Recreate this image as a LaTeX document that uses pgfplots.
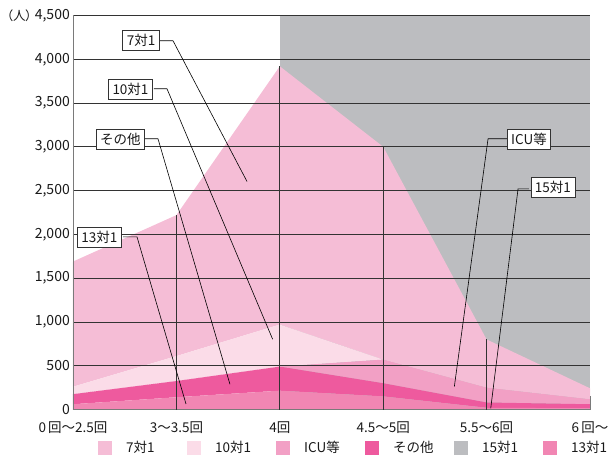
\documentclass[border=0pt]{standalone}
\usepackage{fontspec}
\setmainfont{Noto Sans CJK JP}
\newfontfamily\paltfont[RawFeature=+palt]{Noto Sans CJK JP}
\usepackage{pgfplots}
\pgfplotsset{compat=1.18}
\usepackage{pgfplotstable}

\definecolor{c7}{HTML}{F5BDD6}
\definecolor{c10}{HTML}{FBDCE8}
\definecolor{cicu}{HTML}{F2A0C5}
\definecolor{cother}{HTML}{EE5A9E}
\definecolor{c15}{HTML}{BCBDC0}
\definecolor{c13}{HTML}{F186B3}
\definecolor{gridc}{HTML}{333333}
\definecolor{axc}{HTML}{7A7A7A}

\tikzset{callbox/.style={draw=gridc, fill=white, line width=0.7pt, inner xsep=4pt,
    inner ysep=2pt, minimum height=20pt, text=black!90}}

\pgfplotstableread{
x s13 other icu s10 s7
0 60 115 0 85 1430
1 140 185 0 285 1610
2 215 275 0 480 2950
3 150 150 270 0 2430
4 20 60 170 0 550
5 14 46 57 0 125
}\data

\pgfplotsset{base/.style={scale only axis, width=517pt, height=394pt,
  xmin=0, xmax=5, ymin=0, ymax=4500}}

\begin{document}
\begin{tikzpicture}[font=\fontsize{13.5}{16}\selectfont]
% 15対1 (grey background area)
\begin{axis}[base, hide axis]
\addplot[fill=c15, draw=none] coordinates {(2,0) (2,4500) (5,4500) (5,0)} -- cycle;
\end{axis}
% stacked areas
\begin{axis}[base, stack plots=y, axis on top,
  ytick={0,500,...,4500}, ymajorgrids,
  major grid style={gridc, line width=0.8pt},
  xtick={0,...,5},
  xticklabels={{0\,回〜2.5回},{3〜3.5回},{4回},{4.5〜5回},{5.5〜6回},{6\,回〜}},
  major tick length=0pt,
  axis x line*=bottom, axis y line*=left,
  axis line style={-, axc, line width=0.8pt},
  /pgf/number format/1000 sep={,},
  /pgf/number format/assume math mode=true,
  x tick label style={yshift=-9pt},
  tick label style={font=\fontsize{13.5}{16}\selectfont, text=black!90},
  y tick label style={font=\fontsize{14}{16}\selectfont, inner sep=1pt, xshift=-2pt},
]
\addplot[fill=c13, draw=none] table[x=x, y=s13] {\data} \closedcycle;
\addplot[fill=cother, draw=none] table[x=x, y=other] {\data} \closedcycle;
\addplot[fill=cicu, draw=none] table[x=x, y=icu] {\data} \closedcycle;
\addplot[fill=c10, draw=none] table[x=x, y=s10] {\data} \closedcycle;
\addplot[fill=c7, draw=none] table[x=x, y=s7] {\data} \closedcycle;
\end{axis}
% drop lines, callouts, legend
\begin{axis}[base, hide axis, clip=false,
  legend columns=6,
  legend style={draw=none, fill=none, at={(rel axis cs:0,0)}, anchor=west,
    xshift=25pt, yshift=-38.5pt, inner sep=0pt,
    nodes={inner sep=0pt, font=\fontsize{13.5}{16}\selectfont, text=black!90},
    /tikz/every odd column/.append style={column sep=14pt},
    /tikz/every even column/.append style={column sep=0pt}},
  legend image code/.code={\fill[#1] (0pt,-7pt) rectangle (14pt,7pt);},
]
\addplot[ycomb, gridc, line width=0.8pt, mark=none, forget plot]
  coordinates {(1,2220) (2,3920) (3,3000) (4,800)};
\addplot[ycomb, axc, line width=0.8pt, mark=none, forget plot]
  coordinates {(5,150)};
% callout leader lines
\addplot[black, line width=0.6pt, forget plot] coordinates {(0.841,4212) (0.967,4212) (1.683,2604)};
\addplot[black, line width=0.6pt, forget plot] coordinates {(0.783,3663) (0.909,3663) (1.931,802)};
\addplot[black, line width=0.6pt, forget plot] coordinates {(0.687,3092) (0.822,3092) (1.518,288)};
\addplot[black, line width=0.6pt, forget plot] coordinates {(0.484,1972) (0.619,1972) (1.093,63)};
\addplot[black, line width=0.6pt, forget plot] coordinates {(4.197,3092) (4.014,3092) (3.688,261)};
\addplot[black, line width=0.6pt, forget plot] coordinates {(4.410,2520) (4.304,2520) (4.040,14)};
\node[callbox] at (axis cs:0.658,4212) {7対1};
\node[callbox] at (axis cs:0.556,3658) {10対1};
\node[callbox] at (axis cs:0.459,3086) {その他};
\node[callbox] at (axis cs:0.256,1966) {13対1};
\node[callbox] at (axis cs:4.410,3086) {ICU等};
\node[callbox] at (axis cs:4.642,2532) {15対1};
\node[anchor=east, inner sep=0pt, font={\paltfont\fontsize{12.5}{15}\selectfont}, text=black!90]
  at (rel axis cs:0,1) [xshift=-41pt] {（人）};
\addlegendimage{fill=c7, draw=none}
\addlegendentry{\makebox[61pt][l]{7対1}}
\addlegendimage{fill=c10, draw=none}
\addlegendentry{\makebox[61pt][l]{10対1}}
\addlegendimage{fill=cicu, draw=none}
\addlegendentry{\makebox[61pt][l]{ICU等}}
\addlegendimage{fill=cother, draw=none}
\addlegendentry{\makebox[61pt][l]{その他}}
\addlegendimage{fill=c15, draw=none}
\addlegendentry{\makebox[61pt][l]{15対1}}
\addlegendimage{fill=c13, draw=none}
\addlegendentry{\makebox[40pt][l]{13対1}}
\end{axis}
\pgfresetboundingbox
\path ([shift={(-73pt,-45.5pt)}]current axis.south west) rectangle ([shift={(537pt,409.5pt)}]current axis.south west);
\end{tikzpicture}
\end{document}
